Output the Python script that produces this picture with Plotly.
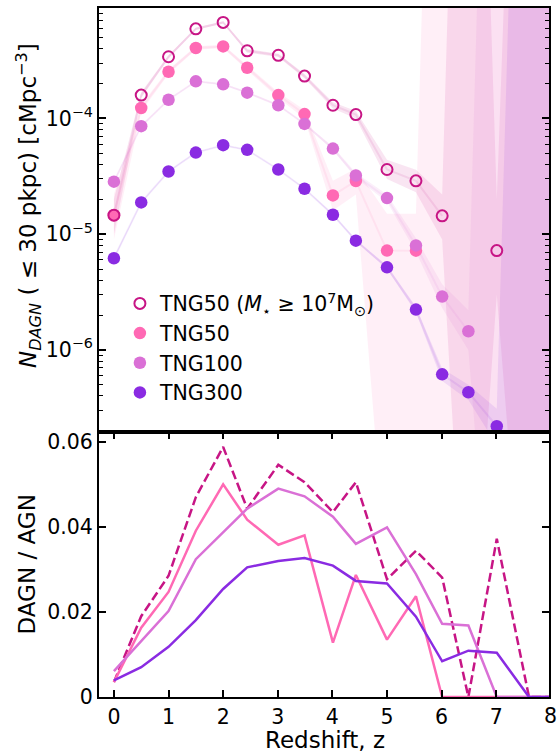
import plotly.graph_objects as go
from plotly.subplots import make_subplots

# ---------------- data ----------------
redshift = [0.0, 0.5, 1.0, 1.5, 2.0, 2.44, 3.01, 3.49, 4.01, 4.43, 5.0, 5.53, 6.01, 6.49, 7.01, 7.6, 8.01]

# Top panel: number density of DAGN (<= 30 pkpc) [cMpc^-3]
tng50_mstar = [1.46e-5, 1.59e-4, 3.41e-4, 5.94e-4, 6.75e-4, 3.84e-4, 3.51e-4, 2.32e-4, 1.30e-4, 1.08e-4,
               3.62e-5, 2.89e-5, 1.44e-5, None, 7.21e-6, None, None]
tng50_mstar_lo = [1.0e-5, 1.5e-4, 3.3e-4, 5.8e-4, 6.6e-4, 3.7e-4, 3.4e-4, 2.22e-4, 1.22e-4, 1.0e-4,
                  3.0e-5, 2.3e-5, 9e-6, 1e-9, 3e-6, 1e-9, 1e-9]
tng50_mstar_hi = [2.0e-5, 1.68e-4, 3.52e-4, 6.1e-4, 6.9e-4, 3.98e-4, 3.62e-4, 2.42e-4, 1.38e-4, 1.16e-4,
                  4.4e-5, 3.6e-5, 2.2e-5, 1e3, 2e-5, 1e3, 1e3]

tng50 = [1.46e-5, 1.23e-4, 2.53e-4, 4.06e-4, 4.19e-4, 2.74e-4, 1.59e-4, 1.09e-4, 2.16e-5, 2.88e-5,
         7.21e-6, 7.2e-6, None, None, None, None, None]
tng50_lo = [9.0e-6, 1.15e-4, 2.42e-4, 3.92e-4, 4.05e-4, 2.62e-4, 1.5e-4, 1.0e-4, 1.6e-5, 2.2e-5,
            1e-8, 1e-8, 1e-9, 1e-9, 1e-9, 1e-9, 1e-9]
tng50_hi = [2.2e-5, 1.31e-4, 2.64e-4, 4.2e-4, 4.33e-4, 2.86e-4, 1.68e-4, 1.18e-4, 2.9e-5, 3.7e-5,
            1.5e-5, 1.5e-5, 1e3, 1e3, 1e3, 1e3, 1e3]

tng100 = [2.84e-5, 8.57e-5, 1.45e-4, 2.09e-4, 1.97e-4, 1.67e-4, 1.30e-4, 8.97e-5, 5.49e-5, 3.21e-5,
          2.05e-5, 8.0e-6, 2.89e-6, 1.45e-6, None, None, None]
tng100_lo = [2.75e-5, 8.4e-5, 1.43e-4, 2.06e-4, 1.94e-4, 1.64e-4, 1.28e-4, 8.8e-5, 5.3e-5, 3.05e-5,
             1.9e-5, 7.0e-6, 2.3e-6, 1.0e-6, 1e-9, 1e-9, 1e-9]
tng100_hi = [2.93e-5, 8.75e-5, 1.47e-4, 2.12e-4, 2.0e-4, 1.7e-4, 1.32e-4, 9.15e-5, 5.7e-5, 3.4e-5,
             2.2e-5, 9.2e-6, 3.7e-6, 2.2e-6, 1e3, 1e3, 1e3]

tng300 = [6.19e-6, 1.88e-5, 3.48e-5, 5.07e-5, 5.87e-5, 5.35e-5, 3.62e-5, 2.47e-5, 1.47e-5, 8.79e-6,
          5.17e-6, 2.23e-6, 6.15e-7, 4.31e-7, 2.19e-7, None, None]
tng300_lo = [6.05e-6, 1.86e-5, 3.45e-5, 5.04e-5, 5.84e-5, 5.32e-5, 3.6e-5, 2.45e-5, 1.45e-5, 8.6e-6,
             5.0e-6, 2.1e-6, 5.4e-7, 3.7e-7, 1.5e-7, 1e-9, 1e-9]
tng300_hi = [6.33e-6, 1.9e-5, 3.51e-5, 5.1e-5, 5.9e-5, 5.38e-5, 3.64e-5, 2.49e-5, 1.49e-5, 8.98e-6,
             5.35e-6, 2.36e-6, 6.9e-7, 5.0e-7, 3.1e-7, 1e3, 1e3]

# Bottom panel: DAGN / AGN fraction
frac_tng50_mstar = [0.0035, 0.019, 0.0285, 0.047, 0.0588, 0.0443, 0.0546, 0.0505, 0.0435, 0.0505,
                    0.0277, 0.0344, 0.0281, 0.0, 0.0372, 0.0, 0.0]
frac_tng50 = [0.0035, 0.0163, 0.0247, 0.0391, 0.050, 0.0417, 0.0358, 0.038, 0.0128, 0.0287,
              0.0135, 0.0237, 0.0, 0.0, 0.0, 0.0, 0.0]
frac_tng100 = [0.0061, 0.0131, 0.0202, 0.0324, 0.0387, 0.0443, 0.049, 0.0472, 0.0424, 0.036,
               0.0399, 0.0289, 0.0172, 0.0168, 0.0, 0.0, 0.0]
frac_tng300 = [0.0039, 0.0070, 0.0118, 0.0181, 0.0254, 0.0305, 0.032, 0.0327, 0.0309, 0.0273,
               0.0267, 0.0189, 0.0084, 0.0109, 0.0104, 0.0, 0.0]

labels = ["TNG50 (<i>M</i><sub>⋆</sub> ≥ 10<sup>7</sup>M<sub>⊙</sub>)", "TNG50", "TNG100", "TNG300"]
log_tickvals = [1e-6, 1e-5, 1e-4]
log_ticktext = ["10<sup>−6</sup>", "10<sup>−5</sup>", "10<sup>−4</sup>"]
frac_tickvals = [0, 0.02, 0.04, 0.06]
frac_ticktext = ["0", "0.02", "0.04", "0.06"]
z_tickvals = [0, 1, 2, 3, 4, 5, 6, 7]
z_edge_label = "8"

# ---------------- style ----------------
C_MSTAR = "#C71585"
C_50 = "#FF69B4"
C_100 = "#DA70D6"
C_300 = "#8A2BE2"
FONT = "DejaVu Sans"


def rgba(hexc, a):
    h = hexc.lstrip("#")
    r, g, b = int(h[0:2], 16), int(h[2:4], 16), int(h[4:6], 16)
    return f"rgba({r},{g},{b},{a})"


fig = make_subplots(rows=2, cols=1, shared_xaxes=True, vertical_spacing=0,
                    row_heights=[0.6155, 0.3845])

series = [
    (tng50_mstar, tng50_mstar_lo, tng50_mstar_hi, C_MSTAR),
    (tng50, tng50_lo, tng50_hi, C_50),
    (tng100, tng100_lo, tng100_hi, C_100),
    (tng300, tng300_lo, tng300_hi, C_300),
]

# bands
for vals, lo, hi, c in series:
    fig.add_trace(go.Scatter(x=redshift + redshift[::-1], y=hi + lo[::-1], fill="toself",
                             fillcolor=rgba(c, 0.11), line=dict(width=0), mode="lines",
                             hoverinfo="skip", showlegend=False), row=1, col=1)
# faint connecting lines
for vals, lo, hi, c in series:
    fig.add_trace(go.Scatter(x=redshift, y=vals, mode="lines", connectgaps=False,
                             line=dict(color=rgba(c, 0.1), width=2),
                             hoverinfo="skip", showlegend=False), row=1, col=1)

# markers (filled first, open on top)
fig.add_trace(go.Scatter(x=redshift, y=tng50, mode="markers", name=labels[1], legendrank=2,
                         marker=dict(color=C_50, size=12.5, line=dict(width=0))), row=1, col=1)
fig.add_trace(go.Scatter(x=redshift, y=tng100, mode="markers", name=labels[2], legendrank=3,
                         marker=dict(color=C_100, size=12.5, line=dict(width=0))), row=1, col=1)
fig.add_trace(go.Scatter(x=redshift, y=tng300, mode="markers", name=labels[3], legendrank=4,
                         marker=dict(color=C_300, size=12.5, line=dict(width=0))), row=1, col=1)
fig.add_trace(go.Scatter(x=redshift, y=tng50_mstar, mode="markers", name=labels[0], legendrank=1,
                         marker=dict(symbol="circle-open", color=C_MSTAR, size=11,
                                     line=dict(width=2, color=C_MSTAR))), row=1, col=1)

# bottom panel
fig.add_trace(go.Scatter(x=redshift, y=frac_tng50_mstar, mode="lines", showlegend=False,
                         line=dict(color=C_MSTAR, width=2.5, dash="9px,4px")), row=2, col=1)
fig.add_trace(go.Scatter(x=redshift, y=frac_tng50, mode="lines", showlegend=False,
                         line=dict(color=C_50, width=2.5)), row=2, col=1)
fig.add_trace(go.Scatter(x=redshift, y=frac_tng100, mode="lines", showlegend=False,
                         line=dict(color=C_100, width=2.5)), row=2, col=1)
fig.add_trace(go.Scatter(x=redshift, y=frac_tng300, mode="lines", showlegend=False,
                         line=dict(color=C_300, width=2.5)), row=2, col=1)

axis_common = dict(showline=True, linecolor="black", linewidth=2, mirror=True,
                   showgrid=False, zeroline=False, tickcolor="black",
                   tickfont=dict(family=FONT, size=20.5, color="black"))

XR = [-0.273, 7.966]
fig.update_xaxes(**axis_common)
fig.update_xaxes(range=XR, row=1, col=1, ticks="", showticklabels=False)
fig.update_xaxes(range=XR, row=2, col=1, ticks="inside", ticklen=7, tickwidth=1.5,
                 mirror="ticks", tickvals=z_tickvals, ticktext=[str(v) for v in z_tickvals])
fig.update_yaxes(**axis_common)
fig.update_yaxes(type="log", range=[-6.71, -3.046], row=1, col=1, ticks="inside", ticklen=7,
                 tickwidth=1.5, mirror="ticks", tickvals=log_tickvals, ticktext=log_ticktext,
                 minor=dict(ticks="inside", ticklen=4, tickwidth=1.2, tickcolor="black", dtick="D1",
                            showgrid=False))
fig.update_yaxes(range=[0, 0.0623], row=2, col=1, ticks="inside", ticklen=7, tickwidth=1.5,
                 mirror="ticks", tickvals=frac_tickvals, ticktext=frac_ticktext)

L, R, T, B = 99, 6, 7, 55
W, H = 557, 752
PW, PH = W - L - R, H - T - B


def px2paper(px, py):
    return (px - L) / PW, (H - B - py) / PH


ann = []
x, y = px2paper(28, 205)
ann.append(dict(x=x, y=y, xref="paper", yref="paper", textangle=-90, showarrow=False,
                text="<i>N<sub>DAGN</sub></i> ( ≤ 30 pkpc) [cMpc<sup>−3</sup>]",
                font=dict(family=FONT, size=23, color="black"), xanchor="center", yanchor="middle"))
x, y = px2paper(27, 564)
ann.append(dict(x=x, y=y, xref="paper", yref="paper", textangle=-90, showarrow=False,
                text="DAGN / AGN", font=dict(family=FONT, size=23, color="black"),
                xanchor="center", yanchor="middle"))
x, y = px2paper(326, 740)
ann.append(dict(x=x, y=y, xref="paper", yref="paper", showarrow=False, text="Redshift, z",
                font=dict(family=FONT, size=23, color="black"), xanchor="center", yanchor="middle"))
# tick label at z = 8, just beyond the right edge of the axis range
x8 = (8 - XR[0]) / (XR[1] - XR[0])
_, y8 = px2paper(0, 716)
ann.append(dict(x=x8, y=y8, xref="paper", yref="paper", showarrow=False, text=z_edge_label,
                font=dict(family=FONT, size=20.5, color="black"), xanchor="center", yanchor="middle"))

lx, ly = px2paper(120, 283)
fig.update_layout(
    width=W, height=H, margin=dict(l=L, r=R, t=T, b=B),
    paper_bgcolor="white", plot_bgcolor="white",
    font=dict(family=FONT, size=20.5, color="black"),
    showlegend=True,
    legend=dict(x=lx, y=ly, xanchor="left", yanchor="top", bgcolor="rgba(0,0,0,0)",
                font=dict(family=FONT, size=20.5, color="black"), tracegroupgap=0,
                itemsizing="trace"),
    annotations=ann,
)

fig.write_html("out.html", config={"displayModeBar": False},
               post_script="document.body.style.margin='0';")
